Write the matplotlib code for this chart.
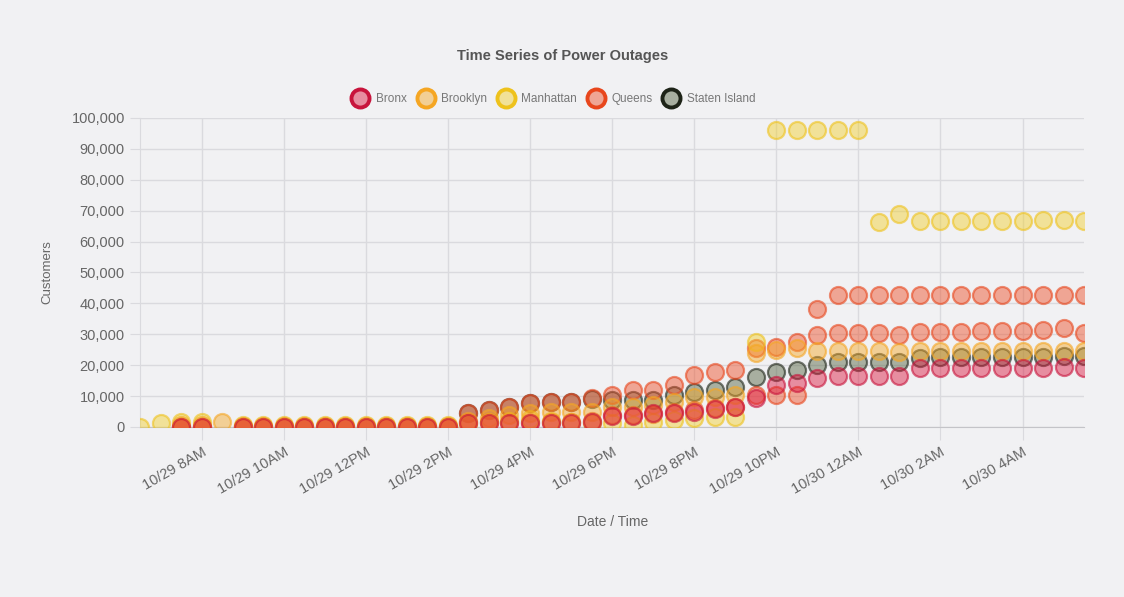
import numpy as np
import pandas as pd
import matplotlib
matplotlib.use("Agg")
import matplotlib.pyplot as plt
from matplotlib.lines import Line2D
from matplotlib.ticker import FuncFormatter

plt.rcParams['font.family'] = ['Liberation Sans', 'DejaVu Sans']

# half-hourly readings, 10/29 6:30AM -> 10/30 5:30AM
times = pd.date_range('2012-10-29 06:30', '2012-10-30 05:30', freq='30min')
N = None

bronx = [N, N, 0, 0, N, 0, 0, 0, 0, 0, 0, 0, 0, 0, 0, 0,
         1200, 1300, 1300, 1400, 1400, 1400, 1500, 3500, 3700, 4500, 4500, 5000, 5800, 6500,
         9400, 13600, 14200, 15900, 16500, 16500, 16500, 16500,
         19200, 19100, 19200, 19200, 19100, 19200, 19200, 19300, 19200]

brooklyn = [N, N, 500, 500, 1700, 300, 300, 300, 300, 300, 300, 300, 300, 300, 300, 300,
            2000, 3000, 4000, 4500, 4800, 4800, 5000, 6500, 6500, 7000, 8100, 9700, 9700, 10300,
            23900, 25000, 25500, 24500, 24600, 24500, 24500, 24400, 24500, 24600,
            24500, 24500, 24600, 24500, 24500, 24600, 24500]

manhattan = [0, 1300, 1700, 1700, N, 700, 700, 700, 700, 700, 700, 700, 700, 800, 800, 800,
             1000, 1500, 2000, 2500, 2000, 1500, 1300, 1300, 600, 1500, 2300, 2900, 3200, 3200,
             27500, 96000, 96100, 96000, 96000, 96100,
             66300, 68800, 66500, 66500, 66500, 66700, 66700, 66800, 67000, 67000, 66500]

queens_a = [N, N, 0, 0, N, 0, 0, 0, 0, 0, 0, 0, 0, 0, 0, 0,
            4500, 5500, 6500, 7700, 8100, 8100, 9300, 10300, 12000, 12000, 13600, 16800, 17800, 18400,
            25500, 26000, 27500, 38200, 42800, 42800, 42800, 42800, 42800, 42800,
            42800, 42800, 42800, 42800, 42800, 42800, 42800]

queens_b = [N, N, 0, 0, N, 0, 0, 0, 0, 0, 0, 0, 0, 0, 0, 0,
            1500, 1600, 1600, 1700, 1700, 1700, 1800, 3900, 3900, 4200, 4900, 5500, 6100, 6500,
            10300, 10300, 10500, 29800, 30400, 30400, 30400, 29800, 30800, 30800,
            30800, 31000, 31000, 31000, 31500, 32000, 30400]

staten = [N] * 16 + [4500, 5500, 6500, 7700, 8100, 8100, 9000, 8700, 8700, 8700, 10300, 11300, 12000, 13000,
                     16200, 17800, 18400, 20000, 21000, 21000, 21000, 21000,
                     22300, 22500, 22500, 22500, 22700, 22700, 22800, 23000, 23000]

tick_times = pd.date_range('2012-10-29 08:00', '2012-10-30 04:00', freq='2h')

# name, values, edge colour, face colour, zorder (first dataset on top like chart.js)
series = [
    ("Bronx", [bronx], "#c8143c", "#dc143c", 7),
    ("Brooklyn", [brooklyn], "#f5a623", "#f5a623", 6),
    ("Manhattan", [manhattan], "#eec21c", "#f2cf2a", 5),
    ("Queens", [queens_a, queens_b], "#e8461c", "#ee4a22", 4),
    ("Staten Island", [staten], "#1e2418", "#4f5f3c", 3),
]

bg = "#f1f1f3"
fig = plt.figure(figsize=(11.24, 5.97), dpi=100, facecolor=bg)
ax = fig.add_axes([0.1246, 0.2848, 0.8399, 0.5176])
ax.set_facecolor(bg)

handles = []
for name, vals_list, ec, fc, z in series:
    for vals in vals_list:
        y = np.array([np.nan if v is None else v for v in vals], dtype=float)
        ax.scatter(times, y, s=150, facecolors=matplotlib.colors.to_rgba(fc, 0.45),
                   edgecolors=matplotlib.colors.to_rgba(ec, 0.6), linewidths=1.6, zorder=z)
    handles.append(Line2D([], [], ls='none', marker='o', markersize=13,
                          markerfacecolor=matplotlib.colors.to_rgba(fc, 0.45),
                          markeredgecolor=ec, markeredgewidth=2.8, label=name))

ax.set_xlim(times[0], times[-1])
ax.set_ylim(0, 100000)
ax.set_yticks(np.arange(0, 100001, 10000))
ax.yaxis.set_major_formatter(FuncFormatter(lambda v, p: f"{int(v):,}"))

def lab(t):
    h = t.hour % 12
    if h == 0:
        h = 12
    return f"{t.month}/{t.day} {h}{'AM' if t.hour < 12 else 'PM'}"

ax.set_xticks(tick_times)
ax.set_xticklabels([lab(t) for t in tick_times], rotation=30, ha='right',
                   rotation_mode='anchor')

ax.grid(True, color="#dadade", lw=1)
ax.set_axisbelow(True)
for s in ['top', 'right']:
    ax.spines[s].set_visible(False)
ax.spines['left'].set_color("#dadade")
ax.spines['bottom'].set_color("#c4c4c8")
ax.tick_params(axis='x', length=9, color="#dadade", pad=4, labelsize=10.5, labelcolor="#666666")
ax.tick_params(axis='y', length=7, color="#dadade", pad=4, labelsize=10.5, labelcolor="#666666")

fig.text(0.501, 0.906, "Time Series of Power Outages", ha='center', va='center',
         fontsize=10.5, fontweight='bold', color="#555555")
fig.text(0.042, 0.544, "Customers", rotation=90, ha='center', va='center',
         fontsize=9.5, color="#666666")
fig.text(0.545, 0.126, "Date / Time", ha='center', va='center',
         fontsize=10, color="#666666")

fig.legend(handles=handles, loc='center', bbox_to_anchor=(0.492, 0.834), ncol=5,
           frameon=False, fontsize=8.5, labelcolor="#777777", handlelength=1.6,
           handletextpad=0.5, columnspacing=0.8)

fig.savefig("out.png", dpi=100, facecolor=bg)
